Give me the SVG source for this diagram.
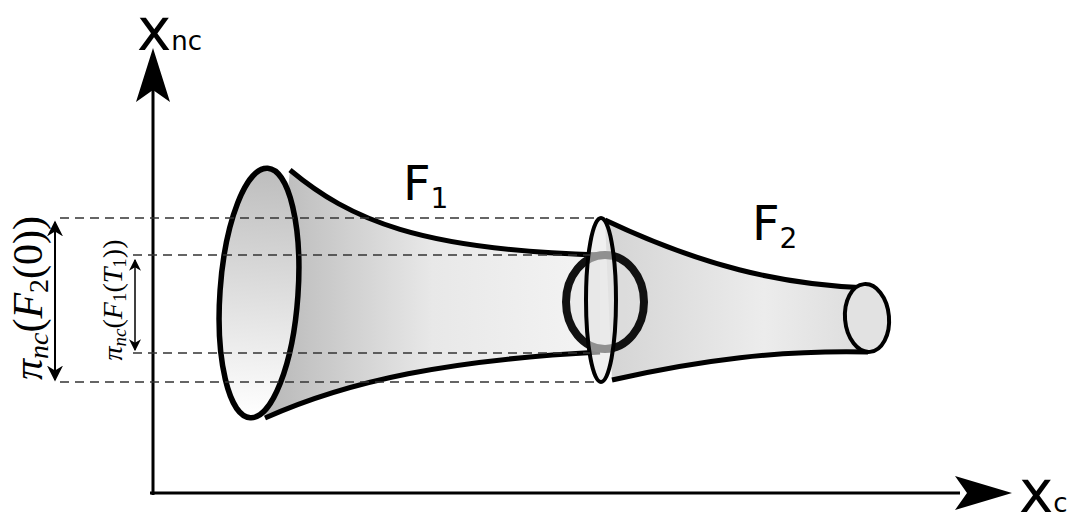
<svg xmlns="http://www.w3.org/2000/svg" width="1076" height="524" viewBox="0 0 1076 524">
<defs>
<linearGradient id="g1" x1="0" y1="0" x2="1" y2="0"><stop offset="0" stop-color="#b8b8b8"/><stop offset="0.5" stop-color="#e8e8e8"/><stop offset="1" stop-color="#f4f4f4"/></linearGradient>
<linearGradient id="g0" x1="0" y1="0" x2="0" y2="1"><stop offset="0" stop-color="#bdbdbd"/><stop offset="1" stop-color="#ffffff"/></linearGradient>
<linearGradient id="g2" x1="0" y1="0" x2="1" y2="0"><stop offset="0" stop-color="#d4d4d4"/><stop offset="0.6" stop-color="#ececec"/><stop offset="1" stop-color="#dcdcdc"/></linearGradient>
<marker id="ah" viewBox="0 0 10 10" refX="9" refY="5" markerWidth="8" markerHeight="8" orient="auto-start-reverse"><path d="M0,0 L10,5 L0,10 L3,5 z" fill="#000"/></marker>
</defs>
<style>
.dash{stroke:#333;stroke-width:1.3;stroke-dasharray:9 6;fill:none}
.out{stroke:#000;stroke-width:5;fill:none;stroke-linejoin:round}
.t{font-family:"DejaVu Sans",sans-serif;fill:#000}
.m{font-family:"Liberation Serif",serif;fill:#000}
</style>
<rect width="1076" height="524" fill="#fff"/>
<g id="axes">
<line x1="153" y1="495" x2="153" y2="90" stroke="#000" stroke-width="3"/>
<path d="M153,48 L170,102 L153,90 L136,102 z" fill="#000"/>
<line x1="150" y1="493" x2="960" y2="493" stroke="#000" stroke-width="3"/>
<path d="M1012,493 L955,476 L967,493 L955,510 z" fill="#000"/>
<text class="t" x="137" y="50" font-size="58">x<tspan font-size="26">nc</tspan></text>
<text class="t" x="1019" y="512" font-size="58">x<tspan font-size="26">c</tspan></text>
</g>
<g id="F1">
<path d="M290,170 C350,220 420,250 600,255 L600,352 C450,360 350,380 265,418 Z" fill="url(#g1)"/>
<path class="out" d="M290,170 C350,220 420,250 600,255"/>
<path class="out" d="M265,418 C350,380 450,360 600,352"/>
<ellipse cx="259" cy="293" rx="39" ry="125" transform="rotate(4 259 293)" fill="url(#g0)" stroke="#000" stroke-width="5.5"/>
<text class="t" x="403" y="200" font-size="48">F<tspan font-size="28" dy="8">1</tspan></text>
</g>
<g id="F2">
<path d="M605,220 C700,265 780,285 865,288 L870,352 C780,350 700,360 612,380 Z" fill="url(#g2)"/>
<path class="out" d="M605,220 C700,265 780,285 868,288"/>
<path class="out" d="M612,380 C700,360 780,350 868,352"/>
<ellipse cx="605" cy="302" rx="39" ry="47" fill="#e2e2e2" fill-opacity="0.5" stroke="#111" stroke-width="8"/>
<ellipse cx="601" cy="300" rx="15" ry="82" fill="#e6e6e6" fill-opacity="0.6" stroke="#000" stroke-width="4"/>
<ellipse cx="867" cy="318" rx="22" ry="34" transform="rotate(-5 867 318)" fill="#e2e2e2" stroke="#000" stroke-width="4"/>
<text class="t" x="752" y="240" font-size="48">F<tspan font-size="28" dy="8">2</tspan></text>
</g>
<g id="connectors">
<line class="dash" x1="60" y1="218" x2="600" y2="218"/>
<line class="dash" x1="133" y1="255" x2="590" y2="255"/>
<line class="dash" x1="133" y1="353" x2="590" y2="353"/>
<line class="dash" x1="60" y1="382" x2="600" y2="382"/>
<line x1="55" y1="222" x2="55" y2="380" stroke="#000" stroke-width="2" marker-start="url(#ah)" marker-end="url(#ah)"/>
<line x1="135" y1="260" x2="135" y2="350" stroke="#000" stroke-width="1.5" marker-start="url(#ah)" marker-end="url(#ah)"/>
</g>
<g id="labels">
<text class="m" font-size="42" font-style="italic" text-anchor="middle" transform="translate(42 298) rotate(-90)">π<tspan font-size="28" dy="6">nc</tspan><tspan dy="-6" font-style="normal">(</tspan>F<tspan font-size="28" dy="6" font-style="normal">2</tspan><tspan dy="-6" font-style="normal">(0))</tspan></text>
<text class="m" font-size="28" font-style="italic" text-anchor="middle" transform="translate(122 300) rotate(-90)">π<tspan font-size="19" dy="4">nc</tspan><tspan dy="-4" font-style="normal">(</tspan>F<tspan font-size="19" dy="4" font-style="normal">1</tspan><tspan dy="-4" font-style="normal">(</tspan>T<tspan font-size="19" dy="4" font-style="normal">1</tspan><tspan dy="-4" font-style="normal">))</tspan></text>
</g>
</svg>
